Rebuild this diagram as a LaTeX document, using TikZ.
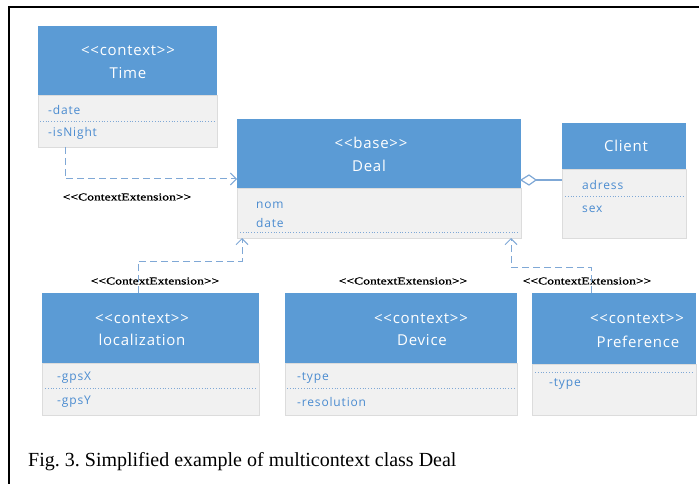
\documentclass[tikz,border=0pt]{standalone}
\usepackage{fontspec}
\setmainfont{Liberation Serif}
\newfontfamily\umlfont[LetterSpace=5]{Open Sans}
\newfontfamily\attrfont[LetterSpace=7]{Open Sans}
\newfontfamily\stereofont[FakeBold=1.2]{Liberation Serif}
\usetikzlibrary{arrows.meta}
\definecolor{hdrblue}{HTML}{5B9BD5}
\definecolor{bodygray}{HTML}{F1F1F1}
\definecolor{attrblue}{HTML}{4A8BD0}
\definecolor{linkblue}{HTML}{7FA8D6}
\definecolor{edgegray}{HTML}{DCDCDC}
\tikzset{
  hdr/.style={fill=hdrblue, draw=none, inner sep=0pt, outer sep=0pt, anchor=north west},
  bodybox/.style={fill=bodygray, draw=edgegray, line width=0.8pt, inner sep=0pt, outer sep=0pt, anchor=north west},
  hdrtext/.style={text=white, font=\umlfont\fontsize{15}{18}\selectfont, inner sep=0pt},
  attr/.style={text=attrblue, font=\attrfont\fontsize{12}{14}\selectfont, anchor=west, inner sep=0pt},
  divider/.style={draw=linkblue, dotted, line width=0.8pt},
  extlink/.style={draw=linkblue, dash pattern=on 7pt off 4pt, line width=1pt},
  realize/.style={-{Straight Barb[length=6pt,width=12pt]}},
  stereo/.style={font=\stereofont\fontsize{10.5}{12}\selectfont, inner sep=0pt},
}
\newcommand{\ctxext}{\scalebox{1.3}[1]{<{}<ContextExtension>{}>}}
\frenchspacing
\begin{document}
\begin{tikzpicture}[x=1pt,y=-1pt]
\useasboundingbox (0,0) rectangle (699,484);
% frame
\draw[line width=1.6pt] (9,484) -- (9,7) -- (699,7);

% ---- Time
\node[bodybox, minimum width=179, minimum height=52] (timeB) at (38,95) {};
\node[hdr, minimum width=179, minimum height=69] (timeH) at (38,26) {};
\node[hdrtext] (timeS) at (128,51) {<{}<context>{}>};
\node[hdrtext] (timeN) at (128,73) {Time};
\draw[divider] (40,121) -- (215,121);
\node[attr] (timeA1) at (48,110) {-date};
\node[attr] (timeA2) at (48,133) {-isNight};

% ---- Deal
\node[bodybox, minimum width=284, minimum height=50] (dealB) at (237,188) {};
\node[hdr, minimum width=284, minimum height=69] (dealH) at (237,119) {};
\node[hdrtext] (dealS) at (371,143) {<{}<base>{}>};
\node[hdrtext] (dealN) at (369,166) {Deal};
\draw[divider] (240,232) -- (518,232);
\node[attr] (dealA1) at (256,205) {nom};
\node[attr] (dealA2) at (256,223) {date};

% ---- Client
\node[bodybox, minimum width=124, minimum height=69] (clientB) at (562,169) {};
\node[hdr, minimum width=124, minimum height=46] (clientH) at (562,123) {};
\node[hdrtext] (clientN) at (626,146) {Client};
\draw[divider] (565,196) -- (684,196);
\node[attr] (clientA1) at (582,185) {adress};
\node[attr] (clientA2) at (582,209) {sex};

% ---- localization
\node[bodybox, minimum width=217, minimum height=52] (locB) at (42,363) {};
\node[hdr, minimum width=217, minimum height=70] (locH) at (42,293) {};
\node[hdrtext] (locS) at (142,319) {<{}<context>{}>};
\node[hdrtext] (locN) at (142,340) {localization};
\draw[divider] (45,388) -- (256,388);
\node[attr] (locA1) at (57,378) {-gpsX};
\node[attr] (locA2) at (57,402) {-gpsY};

% ---- Device
\node[bodybox, minimum width=232, minimum height=52] (devB) at (285,363) {};
\node[hdr, minimum width=232, minimum height=70] (devH) at (285,293) {};
\node[hdrtext] (devS) at (421,319) {<{}<context>{}>};
\node[hdrtext] (devN) at (422,340) {Device};
\draw[divider] (287,388) -- (515,388);
\node[attr] (devA1) at (297,378) {-type};
\node[attr] (devA2) at (297,402) {-resolution};

% ---- Preference
\node[bodybox, minimum width=164, minimum height=51] (prefB) at (532,364) {};
\node[hdr, minimum width=164, minimum height=71] (prefH) at (532,293) {};
\node[hdrtext] (prefS) at (637,319) {<{}<context>{}>};
\node[hdrtext] (prefN) at (638,342) {Preference};
\draw[divider] (535,372) -- (694,372);
\node[attr] (prefA1) at (549,384) {-type};

% ---- stereotype labels
\node[stereo] (extTime) at (127,197) {\ctxext};
\node[stereo] (extLoc) at (155,281) {\ctxext};
\node[stereo] (extDev) at (403,281) {\ctxext};
\node[stereo] (extPref) at (587,281) {\ctxext};

% ---- connectors
\draw[extlink, realize] (timeB.south west -| 65,0) |- (dealH.south west |- 0,179);
\draw[extlink, realize] (locH.north west -| 138,0) |- (242,261) -- (dealB.south west -| 242,0);
\draw[extlink, realize] (prefH.north west -| 591,0) |- (511,267) -- (dealB.south west -| 511,0);
% aggregation Deal <>-- Client
\draw[linkblue, line width=1.6pt] (clientB.north west |- 0,180) -- (536,180);
\draw[linkblue, line width=1.2pt, fill=white] (dealH.south east |- 0,180) -- (529,175) -- (536,180) -- (529,185) -- cycle;

% ---- caption
\node[anchor=west, inner sep=0pt, font=\fontsize{20}{23}\selectfont] (caption) at (28,462)
  {Fig. 3. Simplified example of multicontext class Deal};
\end{tikzpicture}
\end{document}
